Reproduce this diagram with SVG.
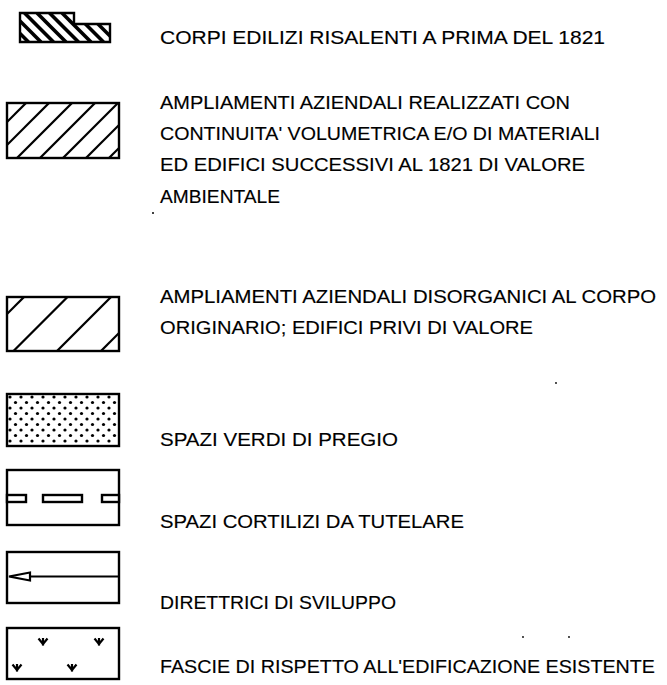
<svg xmlns="http://www.w3.org/2000/svg" width="667" height="685" viewBox="0 0 667 685">
  <style>
    .bg { fill: #ffffff; }
    .box { fill: none; stroke: #000; stroke-width: 2.4; stroke-linejoin: miter; }
    .hatch { stroke: #000; stroke-width: 2.2; fill: none; stroke-linecap: butt; }
    .hatch-thick { stroke: #000; stroke-width: 3.6; fill: none; }
    .lbl { font-family: "Liberation Sans", Arial, sans-serif; font-size: 19px; fill: #000; stroke: #000; stroke-width: 0.15; }
    .wbox { fill: #fff; stroke: #000; stroke-width: 2.4; }
  </style>
  <defs>
    <clipPath id="clip1"><polygon points="20,13 74,13 74,24 110,24 110,42 20,42"/></clipPath>
    <clipPath id="clip2"><rect x="7" y="103" width="112" height="55"/></clipPath>
    <clipPath id="clip3"><rect x="7" y="297" width="112" height="54"/></clipPath>
    <pattern id="dots" patternUnits="userSpaceOnUse" x="7" y="394" width="11" height="11">
      <circle cx="3" cy="3" r="1.6" fill="#000"/>
      <circle cx="8.5" cy="8.5" r="1.6" fill="#000"/>
    </pattern>
    <g id="tick">
      <path d="M-4.5,-3.5 L0,2 L4.5,-3.5" fill="none" stroke="#000" stroke-width="2.2"/>
      <path d="M0,-4 L0,3.5" fill="none" stroke="#000" stroke-width="2.2"/>
    </g>
  </defs>

  <rect class="bg" x="0" y="0" width="667" height="685"/>

  <!-- 1: corpi edilizi -->
  <g id="sym-corpi">
    <g clip-path="url(#clip1)">
      <line class="hatch-thick" x1="-0.5" y1="13" x2="28.5" y2="42"/>
      <line class="hatch-thick" x1="12" y1="13" x2="41" y2="42"/>
      <line class="hatch-thick" x1="24.5" y1="13" x2="53.5" y2="42"/>
      <line class="hatch-thick" x1="37" y1="13" x2="66" y2="42"/>
      <line class="hatch-thick" x1="49.5" y1="13" x2="78.5" y2="42"/>
      <line class="hatch-thick" x1="62" y1="13" x2="91" y2="42"/>
      <line class="hatch-thick" x1="74.5" y1="13" x2="103.5" y2="42"/>
      <line class="hatch-thick" x1="87" y1="13" x2="116" y2="42"/>
    </g>
    <polygon class="box" points="20,13 74,13 74,24 110,24 110,42 20,42"/>
    <text class="lbl" x="160" y="44" textLength="445" lengthAdjust="spacingAndGlyphs">CORPI EDILIZI RISALENTI A PRIMA DEL 1821</text>
  </g>

  <!-- 2: ampliamenti con continuita -->
  <g id="sym-ampliamenti">
    <g clip-path="url(#clip2)">
      <line class="hatch" x1="0" y1="129" x2="129" y2="0"/>
      <line class="hatch" x1="0" y1="152" x2="152" y2="0"/>
      <line class="hatch" x1="0" y1="175" x2="175" y2="0"/>
      <line class="hatch" x1="0" y1="198" x2="198" y2="0"/>
      <line class="hatch" x1="0" y1="221" x2="221" y2="0"/>
      <line class="hatch" x1="0" y1="244" x2="244" y2="0"/>
      <line class="hatch" x1="0" y1="267" x2="267" y2="0"/>
    </g>
    <rect class="box" x="7" y="103" width="112" height="55"/>
    <text class="lbl" x="160" y="109" textLength="410" lengthAdjust="spacingAndGlyphs">AMPLIAMENTI AZIENDALI REALIZZATI CON</text>
    <text class="lbl" x="160" y="140" textLength="440" lengthAdjust="spacingAndGlyphs">CONTINUITA' VOLUMETRICA E/O DI MATERIALI</text>
    <text class="lbl" x="160" y="171" textLength="425" lengthAdjust="spacingAndGlyphs">ED EDIFICI SUCCESSIVI AL 1821 DI VALORE</text>
    <text class="lbl" x="160" y="203" textLength="120" lengthAdjust="spacingAndGlyphs">AMBIENTALE</text>
  </g>

  <!-- 3: ampliamenti disorganici -->
  <g id="sym-disorganici">
    <g clip-path="url(#clip3)">
      <line class="hatch" x1="0" y1="321" x2="321" y2="0"/>
      <line class="hatch" x1="0" y1="364.5" x2="364.5" y2="0"/>
      <line class="hatch" x1="0" y1="408" x2="408" y2="0"/>
      <line class="hatch" x1="0" y1="452" x2="452" y2="0"/>
    </g>
    <rect class="box" x="7" y="297" width="112" height="54"/>
    <text class="lbl" x="160" y="303" textLength="496" lengthAdjust="spacingAndGlyphs">AMPLIAMENTI AZIENDALI DISORGANICI AL CORPO</text>
    <text class="lbl" x="160" y="334" textLength="373" lengthAdjust="spacingAndGlyphs">ORIGINARIO; EDIFICI PRIVI DI VALORE</text>
  </g>

  <!-- 4: spazi verdi -->
  <g id="sym-verdi">
    <rect x="7" y="394" width="112" height="52" fill="url(#dots)"/>
    <rect class="box" x="7" y="394" width="112" height="52"/>
    <text class="lbl" x="160" y="446" textLength="238" lengthAdjust="spacingAndGlyphs">SPAZI VERDI DI PREGIO</text>
  </g>

  <!-- 5: spazi cortilizi -->
  <g id="sym-cortilizi">
    <rect class="box" x="7" y="470" width="112" height="55"/>
    <rect class="wbox" x="7" y="495" width="19" height="7"/>
    <rect class="wbox" x="43" y="495" width="39" height="7"/>
    <rect class="wbox" x="102" y="495" width="17" height="7"/>
    <text class="lbl" x="160" y="528" textLength="304" lengthAdjust="spacingAndGlyphs">SPAZI CORTILIZI DA TUTELARE</text>
  </g>

  <!-- 6: direttrici -->
  <g id="sym-direttrici">
    <rect class="box" x="7" y="552" width="112" height="51"/>
    <line x1="30" y1="576.5" x2="119" y2="576.5" stroke="#000" stroke-width="2.2"/>
    <polygon points="9,576.5 30,572.5 30,580.5" fill="#fff" stroke="#000" stroke-width="2.2" stroke-linejoin="miter"/>
    <text class="lbl" x="160" y="609" textLength="236" lengthAdjust="spacingAndGlyphs">DIRETTRICI DI SVILUPPO</text>
  </g>

  <!-- 7: fascie di rispetto -->
  <g id="sym-fascie">
    <rect class="box" x="7" y="628" width="112" height="51"/>
    <use href="#tick" x="43" y="642"/>
    <use href="#tick" x="99" y="642"/>
    <use href="#tick" x="17" y="668"/>
    <use href="#tick" x="72" y="668"/>
    <text class="lbl" x="160" y="673" textLength="495" lengthAdjust="spacingAndGlyphs">FASCIE DI RISPETTO ALL'EDIFICAZIONE ESISTENTE</text>
  </g>

  <!-- stray scan marks -->
  <g id="marks" fill="#000">
    <circle cx="153" cy="213" r="1"/>
    <circle cx="556" cy="383" r="0.9"/>
    <circle cx="523" cy="637" r="0.9"/>
    <circle cx="569" cy="637" r="0.9"/>
  </g>
</svg>
